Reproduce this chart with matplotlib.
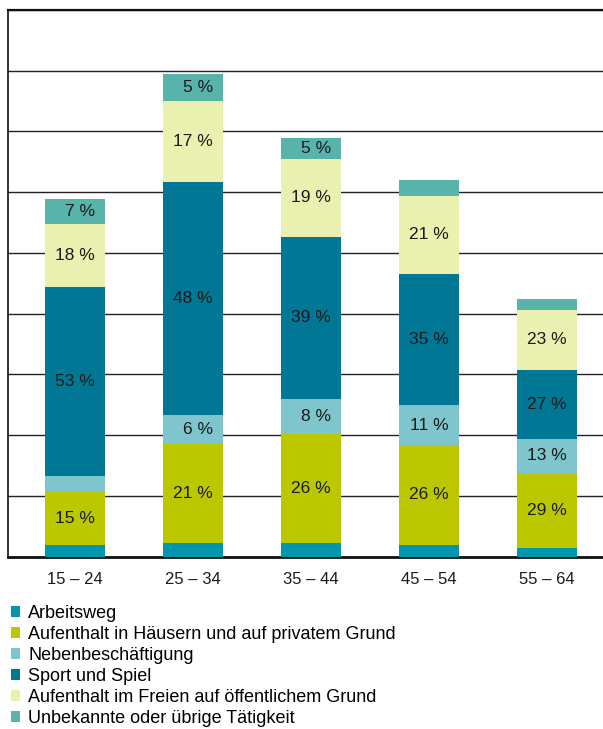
import matplotlib.pyplot as plt
from matplotlib.patches import Patch

plt.rcParams['font.family'] = ['Liberation Sans', 'DejaVu Sans']

# Altersgruppen
gruppen = ['15 – 24', '25 – 34', '35 – 44', '45 – 54', '55 – 64']

# Werte je Tätigkeit (Einheit = eine Gitterlinie)
arbeitsweg = [0.193, 0.226, 0.226, 0.193, 0.143]
haeuser = [0.884, 1.630, 1.794, 1.646, 1.235]
neben = [0.252, 0.477, 0.576, 0.654, 0.560]
sport = [3.116, 3.836, 2.668, 2.161, 1.136]
freien = [1.032, 1.334, 1.284, 1.284, 0.988]
unbekannt = [0.409, 0.444, 0.345, 0.264, 0.181]

# Prozentbeschriftungen (None = keine Beschriftung)
pct_arbeitsweg = [None, None, None, None, None]
pct_haeuser = [15, 21, 26, 26, 29]
pct_neben = [None, 6, 8, 11, 13]
pct_sport = [53, 48, 39, 35, 27]
pct_freien = [18, 17, 19, 21, 23]
pct_unbekannt = [7, 5, 5, None, None]

namen = ['Arbeitsweg',
         'Aufenthalt in Häusern und auf privatem Grund',
         'Nebenbeschäftigung',
         'Sport und Spiel',
         'Aufenthalt im Freien auf öffentlichem Grund',
         'Unbekannte oder übrige Tätigkeit']
farben = ['#0096AE', '#BBC800', '#7FC5CD', '#007794', '#EAF0B0', '#58B3AB']

serien = [arbeitsweg, haeuser, neben, sport, freien, unbekannt]
labels = [pct_arbeitsweg, pct_haeuser, pct_neben, pct_sport, pct_freien, pct_unbekannt]

fig = plt.figure(figsize=(6.03, 7.29), dpi=100)
ax = fig.add_axes([8/603, 172.3/729, 595/603, 546.7/729])

x = list(range(len(gruppen)))
breite = 0.508
boden = [0.0] * len(gruppen)
for werte, pct, farbe in zip(serien, labels, farben):
    ax.bar(x, werte, breite, bottom=boden, color=farbe, zorder=3, linewidth=0)
    for i in x:
        if pct[i] is not None:
            ax.text(i + 0.17, boden[i] + werte[i] / 2, f'{pct[i]} %',
                    ha='right', va='center', fontsize=12.5, color='#1a1a1a', zorder=4)
    boden = [b + w for b, w in zip(boden, werte)]

ax.set_ylim(0, 9)
ax.set_xlim(-0.568, 4.475)
ax.set_yticks(range(0, 10))
ax.set_yticklabels([])
ax.yaxis.grid(True, color='#222222', linewidth=1.0, zorder=0)
ax.tick_params(axis='both', length=0)
ax.set_xticks(x)
ax.set_xticklabels(gruppen, fontsize=12, color='#1a1a1a')
ax.tick_params(axis='x', pad=11)

ax.spines['right'].set_visible(False)
ax.spines['top'].set_linewidth(1.6)
ax.spines['left'].set_linewidth(1.2)
ax.spines['bottom'].set_linewidth(2.0)
for s in ['top', 'left', 'bottom']:
    ax.spines[s].set_color('#111111')

handles = [Patch(facecolor=f, edgecolor='none', label=n) for n, f in zip(namen, farben)]
fig.legend(handles=handles, loc='upper left', bbox_to_anchor=(11/603, 1 - 605/729),
           frameon=False, fontsize=13, handlelength=0.5, handleheight=0.5,
           handletextpad=0.45, labelspacing=0.22, borderaxespad=0, borderpad=0)

fig.savefig('out.png', dpi=100)
